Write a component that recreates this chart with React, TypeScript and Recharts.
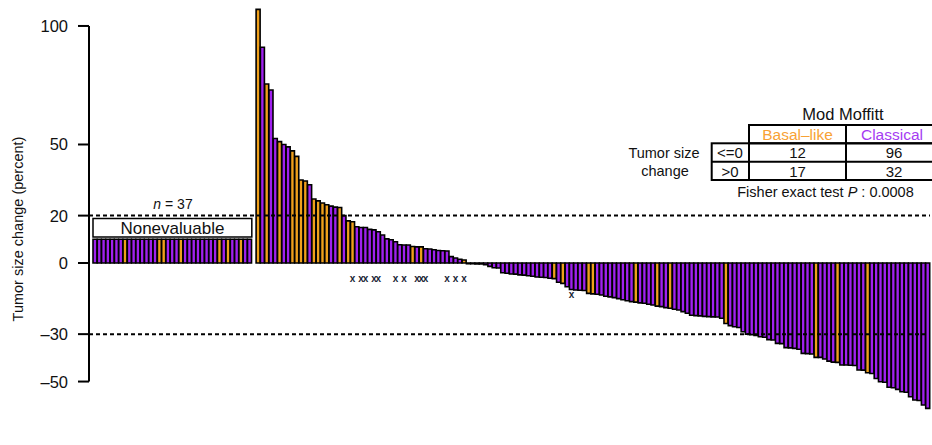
import React from 'react';
import { BarChart, Bar, XAxis, YAxis, Cell, LabelList, ReferenceLine, ReferenceArea } from 'recharts';

const FONT = '"Liberation Sans", Arial, Helvetica, sans-serif';
const ORANGE = '#EFA01C';
const PURPLE = '#A021EF';

// nonevaluable patients (no size change, drawn as a fixed stub)
const NONEVAL_COUNT = 37;
const NONEVAL_HEIGHT = 10;
const NONEVAL_BASAL = [7, 15, 16, 20, 29, 31, 34];

// evaluable patients, sorted waterfall (percent change)
const POS_CHANGE = [
  107, 91, 75.5, 73, 52.5, 51.2, 50, 49, 47.3, 45,
  35, 34.6, 33, 27, 26.2, 25.3, 24.6, 24, 23.6, 23.4,
  20, 17.8, 17.4, 15.3, 15, 15, 14.2, 14, 13.2, 11.8,
  10.2, 9.8, 9, 7.7, 7.6, 7.6, 7, 6.8, 6.8, 6,
  5.9, 5.6, 5.3, 5.2, 5.1, 2.7, 2.1, 1.6, 1.3,
];
const ZERO_CHANGE = [-0.3, -0.3, -0.4, -0.4];
const NEG_CHANGE = [
  -0.7, -1.4, -2.0, -2.1, -4.1, -4.3, -4.6, -4.7, -5.0, -5.1,
  -5.4, -5.6, -5.9, -6.0, -6.1, -6.4, -6.6, -8.1, -8.6, -10.0,
  -11.2, -11.4, -11.5, -11.6, -12.8, -13.0, -13.2, -13.5, -14.0, -14.3,
  -14.6, -15.0, -15.5, -15.9, -16.3, -16.5, -16.8, -17.0, -17.4, -17.7,
  -18.2, -18.4, -18.8, -19.1, -19.5, -19.8, -20.5, -21.2, -22.0, -22.2,
  -22.3, -22.5, -22.6, -22.7, -22.8, -23.3, -25.5, -26.4, -26.9, -27.2,
  -29.0, -30.0, -30.2, -30.5, -31.1, -31.3, -32.3, -32.5, -33.9, -34.0,
  -35.7, -35.8, -36.0, -36.4, -38.1, -38.2, -38.4, -39.8, -39.8, -40.5,
  -41.4, -41.8, -41.9, -43.0, -43.0, -43.1, -43.2, -45.1, -45.2, -46.3,
  -46.6, -48.7, -50.1, -50.3, -52.4, -52.6, -53.3, -54.3, -54.5, -56.4,
  -57.8, -58.0, -59.9, -61.3,
];
// positions (within evaluable) of Basal-like tumours; the rest are Classical
const EVAL_BASAL = [0, 2, 5, 8, 9, 10, 11, 13, 14, 15, 16, 19, 21, 22, 36, 38, 48,
  69, 71, 77, 78, 88, 93, 96, 109, 130, 135, 142];
// bars marked with an "x"
const FLAGGED = [22, 24, 25, 27, 28, 32, 34, 37, 38, 39, 44, 46, 48, 73];

const Y_TICKS = [-50, -30, 0, 20, 50, 100];
const CUTOFFS = [20, -30];
const Y_DOMAIN = [-62, 108];

const evalChange = [...POS_CHANGE, ...ZERO_CHANGE, ...NEG_CHANGE];

const rows: any[] = [];
for (let i = 0; i < NONEVAL_COUNT; i++) {
  rows.push({ id: `NE${i + 1}`, value: NONEVAL_HEIGHT, basal: NONEVAL_BASAL.includes(i), flag: null });
}
rows.push({ id: 'gap', value: null, basal: false, flag: null });
evalChange.forEach((v, i) => {
  rows.push({ id: `E${i + 1}`, value: v, basal: EVAL_BASAL.includes(i), flag: FLAGGED.includes(i) ? v : null });
});

const renderFlag = (props: any) => {
  const { x, y, width, height, value } = props;
  if (value == null) return null;
  const bottom = Math.max(y, y + height);
  const cy = value > 0 ? bottom + 15 : bottom + 5;
  return (
    <text x={x + width / 2} y={cy} textAnchor="middle" dominantBaseline="central"
      fontSize={10} fontWeight="bold" fill="#1b2536" fontFamily={FONT}>x</text>
  );
};

const YTick = (props: any) => {
  const { x, y, payload } = props;
  return (
    <text x={x} y={y} textAnchor="end" dominantBaseline="central" fontSize={16.5}
      fontFamily={FONT} fill="#111">{String(payload.value).replace('-', '\u2013')}</text>
  );
};

const txt = { fontFamily: FONT, fill: '#111' };
const MARGIN = { top: 7, right: 2, bottom: 35, left: 0 };
const AXIS_W = 89;

export default function App() {
  return (
    <div style={{ position: 'absolute', left: 0, top: 0, width: 932, height: 445, background: '#fff' }}>
      <BarChart width={932} height={445} data={rows} margin={MARGIN}
        barCategoryGap={0} barGap={0}>
        <XAxis dataKey="id" hide padding={{ left: 4, right: 0 }} />
        <YAxis domain={Y_DOMAIN} ticks={Y_TICKS} width={AXIS_W} axisLine={false}
          tickSize={11} tickMargin={10} tick={<YTick />}
          tickLine={{ stroke: '#000', strokeWidth: 2 }} />
        <Bar dataKey="value" isAnimationActive={false} stroke="#000" strokeWidth={1.6}>
          {rows.map((r) => (
            <Cell key={r.id} fill={r.basal ? ORANGE : PURPLE} />
          ))}
          <LabelList dataKey="flag" content={renderFlag} />
        </Bar>
        <ReferenceArea x1="NE1" x2={`NE${NONEVAL_COUNT}`} y1={11} y2={18.8}
          fill="#fff" fillOpacity={1} stroke="#000" strokeWidth={1.5}
          label={{ value: 'Nonevaluable', position: 'center', fontSize: 17, fill: '#111', fontFamily: FONT }} />
      </BarChart>

      {/* same axes again on top so the cut-off lines sit over the bars */}
      <div style={{ position: 'absolute', left: 0, top: 0, pointerEvents: 'none' }}>
        <BarChart width={932} height={445} data={rows} margin={{ ...MARGIN, left: AXIS_W }}
          barCategoryGap={0} barGap={0}>
          <XAxis dataKey="id" hide padding={{ left: 4, right: 0 }} />
          <XAxis xAxisId="frame" type="number" domain={[0, 1]} hide />
          <YAxis domain={Y_DOMAIN} ticks={Y_TICKS} hide />
          <Bar dataKey="value" isAnimationActive={false} fill="none" stroke="none" />
          {CUTOFFS.map((c) => (
            <ReferenceLine key={c} y={c} stroke="#000" strokeWidth={2} strokeDasharray="4 3" />
          ))}
          <ReferenceLine xAxisId="frame" segment={[{ x: 0, y: -50 }, { x: 0, y: 100 }]}
            stroke="#000" strokeWidth={2} />
        </BarChart>
      </div>

      <svg width={932} height={445} style={{ position: 'absolute', left: 0, top: 0, pointerEvents: 'none' }}>
        <text x={18} y={229} transform="rotate(-90 18 229)" textAnchor="middle"
          dominantBaseline="central" fontSize={14.5} {...txt}>Tumor size change (percent)</text>
        <text x={173} y={204} textAnchor="middle" dominantBaseline="central" fontSize={14} {...txt}>
          <tspan fontStyle="italic">n</tspan> = {NONEVAL_COUNT}
        </text>

        {/* contingency table */}
        <text x={843} y={114} textAnchor="middle" dominantBaseline="central" fontSize={16.5} {...txt}>Mod Moffitt</text>
        <g stroke="#000" strokeWidth={2} fill="none">
          <rect x={749} y={125} width={200} height={18.3} />
          <line x1={846} y1={125} x2={846} y2={180} />
          <rect x={711.7} y={143.3} width={240} height={36.7} />
          <line x1={749} y1={143.3} x2={749} y2={180} />
          <line x1={711.7} y1={161.7} x2={940} y2={161.7} />
        </g>
        <text x={797.5} y={134.5} textAnchor="middle" dominantBaseline="central" fontSize={15.5} fontFamily={FONT} fill="#F8A235">Basal–like</text>
        <text x={892} y={134.5} textAnchor="middle" dominantBaseline="central" fontSize={15.5} fontFamily={FONT} fill="#A53BF2">Classical</text>
        <text x={664} y={153} textAnchor="middle" dominantBaseline="central" fontSize={14.5} {...txt}>Tumor size</text>
        <text x={665} y={171} textAnchor="middle" dominantBaseline="central" fontSize={14.5} {...txt}>change</text>
        <text x={730} y={152.5} textAnchor="middle" dominantBaseline="central" fontSize={15} {...txt}>{'<=0'}</text>
        <text x={797.5} y={152.5} textAnchor="middle" dominantBaseline="central" fontSize={15} {...txt}>12</text>
        <text x={894} y={152.5} textAnchor="middle" dominantBaseline="central" fontSize={15} {...txt}>96</text>
        <text x={730} y={171} textAnchor="middle" dominantBaseline="central" fontSize={15} {...txt}>{'>0'}</text>
        <text x={797.5} y={171} textAnchor="middle" dominantBaseline="central" fontSize={15} {...txt}>17</text>
        <text x={894} y={171} textAnchor="middle" dominantBaseline="central" fontSize={15} {...txt}>32</text>
        <text x={825.5} y={192} textAnchor="middle" dominantBaseline="central" fontSize={14.5} {...txt}>
          Fisher exact test <tspan fontStyle="italic">P</tspan> : 0.0008
        </text>
      </svg>
    </div>
  );
}
